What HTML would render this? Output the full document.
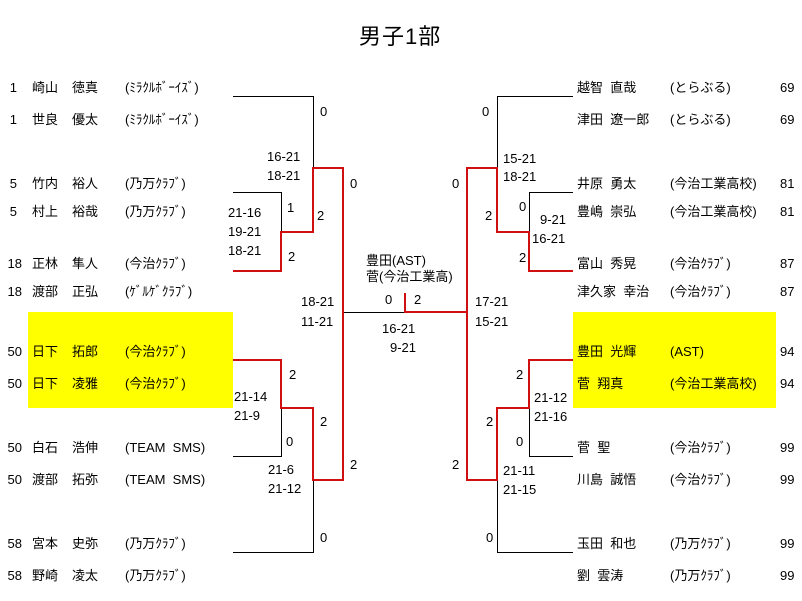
<!DOCTYPE html>
<html><head><meta charset="utf-8">
<style>
html,body{margin:0;padding:0;background:#fff;}
#c{position:relative;width:802px;height:601px;overflow:hidden;font-family:"Liberation Sans","Noto Sans CJK JP",sans-serif;font-size:13px;color:#000;}
.t{position:absolute;line-height:16px;white-space:nowrap;}
.r{text-align:right;}
.y{position:absolute;background:#ffff00;}
svg{position:absolute;left:0;top:0;}
</style></head><body><div id="c">
<div class="y" style="left:28px;top:312px;width:205px;height:96px"></div>
<div class="y" style="left:573px;top:312px;width:203px;height:96px"></div>
<svg width="802" height="601">
<g fill="none" stroke="#000" stroke-width="1">
<polyline points="233,96.5 313.5,96.5 313.5,168"/>
<polyline points="233,192.5 281.5,192.5 281.5,232"/>
<polyline points="343,312.5 405,312.5"/>
<polyline points="233,456.5 281.5,456.5 281.5,408"/>
<polyline points="233,552.5 313.5,552.5 313.5,480"/>
<polyline points="573,96.5 497.5,96.5 497.5,168"/>
<polyline points="573,192.5 529.5,192.5 529.5,232"/>
<polyline points="573,456.5 529.5,456.5 529.5,408"/>
<polyline points="573,552.5 497.5,552.5 497.5,480"/>
</g>
<g fill="none" stroke="#d01010" stroke-width="2">
<polyline points="233,271 281,271 281,232 313,232 313,168 343,168 343,480 313,480 313,408 281,408 281,360 233,360"/>
<polyline points="405,293 405,312 467,312"/>
<polyline points="573,271 529,271 529,232 497,232 497,168 467,168 467,480 497,480 497,408 529,408 529,360 573,360"/>
</g>
</svg>
<div class="t" style="left:359px;top:24px;font-size:22px;line-height:26px;letter-spacing:1px">男子1部</div>

<!-- left names -->
<div class="t r" style="left:0;width:17px;top:80px">1</div><div class="t" style="left:32px;top:80px">崎山</div><div class="t" style="left:72px;top:80px">徳真</div><div class="t" style="left:125px;top:80px">(ﾐﾗｸﾙﾎﾞｰｲｽﾞ)</div>
<div class="t r" style="left:0;width:17px;top:112px">1</div><div class="t" style="left:32px;top:112px">世良</div><div class="t" style="left:72px;top:112px">優太</div><div class="t" style="left:125px;top:112px">(ﾐﾗｸﾙﾎﾞｰｲｽﾞ)</div>
<div class="t r" style="left:0;width:17px;top:176px">5</div><div class="t" style="left:32px;top:176px">竹内</div><div class="t" style="left:72px;top:176px">裕人</div><div class="t" style="left:125px;top:176px">(乃万ｸﾗﾌﾞ)</div>
<div class="t r" style="left:0;width:17px;top:204px">5</div><div class="t" style="left:32px;top:204px">村上</div><div class="t" style="left:72px;top:204px">裕哉</div><div class="t" style="left:125px;top:204px">(乃万ｸﾗﾌﾞ)</div>
<div class="t r" style="left:0;width:22px;top:256px">18</div><div class="t" style="left:32px;top:256px">正林</div><div class="t" style="left:72px;top:256px">隼人</div><div class="t" style="left:125px;top:256px">(今治ｸﾗﾌﾞ)</div>
<div class="t r" style="left:0;width:22px;top:284px">18</div><div class="t" style="left:32px;top:284px">渡部</div><div class="t" style="left:72px;top:284px">正弘</div><div class="t" style="left:125px;top:284px">(ｹﾞﾙｹﾞｸﾗﾌﾞ)</div>
<div class="t r" style="left:0;width:22px;top:344px">50</div><div class="t" style="left:32px;top:344px">日下</div><div class="t" style="left:72px;top:344px">拓郎</div><div class="t" style="left:125px;top:344px">(今治ｸﾗﾌﾞ)</div>
<div class="t r" style="left:0;width:22px;top:376px">50</div><div class="t" style="left:32px;top:376px">日下</div><div class="t" style="left:72px;top:376px">凌雅</div><div class="t" style="left:125px;top:376px">(今治ｸﾗﾌﾞ)</div>
<div class="t r" style="left:0;width:22px;top:440px">50</div><div class="t" style="left:32px;top:440px">白石</div><div class="t" style="left:72px;top:440px">浩伸</div><div class="t" style="left:125px;top:440px">(TEAM&nbsp;&nbsp;SMS)</div>
<div class="t r" style="left:0;width:22px;top:472px">50</div><div class="t" style="left:32px;top:472px">渡部</div><div class="t" style="left:72px;top:472px">拓弥</div><div class="t" style="left:125px;top:472px">(TEAM&nbsp;&nbsp;SMS)</div>
<div class="t r" style="left:0;width:22px;top:536px">58</div><div class="t" style="left:32px;top:536px">宮本</div><div class="t" style="left:72px;top:536px">史弥</div><div class="t" style="left:125px;top:536px">(乃万ｸﾗﾌﾞ)</div>
<div class="t r" style="left:0;width:22px;top:568px">58</div><div class="t" style="left:32px;top:568px">野崎</div><div class="t" style="left:72px;top:568px">凌太</div><div class="t" style="left:125px;top:568px">(乃万ｸﾗﾌﾞ)</div>

<!-- right names -->
<div class="t" style="left:577px;top:80px">越智&nbsp;&nbsp;直哉</div><div class="t" style="left:670px;top:80px">(とらぶる)</div><div class="t" style="left:780px;top:80px">69</div>
<div class="t" style="left:577px;top:112px">津田&nbsp;&nbsp;遼一郎</div><div class="t" style="left:670px;top:112px">(とらぶる)</div><div class="t" style="left:780px;top:112px">69</div>
<div class="t" style="left:577px;top:176px">井原&nbsp;&nbsp;勇太</div><div class="t" style="left:670px;top:176px">(今治工業高校)</div><div class="t" style="left:780px;top:176px">81</div>
<div class="t" style="left:577px;top:204px">豊嶋&nbsp;&nbsp;崇弘</div><div class="t" style="left:670px;top:204px">(今治工業高校)</div><div class="t" style="left:780px;top:204px">81</div>
<div class="t" style="left:577px;top:256px">富山&nbsp;&nbsp;秀晃</div><div class="t" style="left:670px;top:256px">(今治ｸﾗﾌﾞ)</div><div class="t" style="left:780px;top:256px">87</div>
<div class="t" style="left:577px;top:284px">津久家&nbsp;&nbsp;幸治</div><div class="t" style="left:670px;top:284px">(今治ｸﾗﾌﾞ)</div><div class="t" style="left:780px;top:284px">87</div>
<div class="t" style="left:577px;top:344px">豊田&nbsp;&nbsp;光輝</div><div class="t" style="left:670px;top:344px">(AST)</div><div class="t" style="left:780px;top:344px">94</div>
<div class="t" style="left:577px;top:376px">菅&nbsp;&nbsp;翔真</div><div class="t" style="left:670px;top:376px">(今治工業高校)</div><div class="t" style="left:780px;top:376px">94</div>
<div class="t" style="left:577px;top:440px">菅&nbsp;&nbsp;聖</div><div class="t" style="left:670px;top:440px">(今治ｸﾗﾌﾞ)</div><div class="t" style="left:780px;top:440px">99</div>
<div class="t" style="left:577px;top:472px">川島&nbsp;&nbsp;誠悟</div><div class="t" style="left:670px;top:472px">(今治ｸﾗﾌﾞ)</div><div class="t" style="left:780px;top:472px">99</div>
<div class="t" style="left:577px;top:536px">玉田&nbsp;&nbsp;和也</div><div class="t" style="left:670px;top:536px">(乃万ｸﾗﾌﾞ)</div><div class="t" style="left:780px;top:536px">99</div>
<div class="t" style="left:577px;top:568px">劉&nbsp;&nbsp;雲涛</div><div class="t" style="left:670px;top:568px">(乃万ｸﾗﾌﾞ)</div><div class="t" style="left:780px;top:568px">99</div>

<!-- left scores -->
<div class="t" style="left:320px;top:104px">0</div>
<div class="t" style="left:267px;top:149px">16-21</div>
<div class="t" style="left:267px;top:168px">18-21</div>
<div class="t" style="left:350px;top:176px">0</div>
<div class="t" style="left:287px;top:200px">1</div>
<div class="t" style="left:317px;top:208px">2</div>
<div class="t" style="left:228px;top:205px">21-16</div>
<div class="t" style="left:228px;top:224px">19-21</div>
<div class="t" style="left:228px;top:243px">18-21</div>
<div class="t" style="left:288px;top:249px">2</div>
<div class="t" style="left:366px;top:253px">豊田(AST)</div>
<div class="t" style="left:366px;top:269px">菅(今治工業高)</div>
<div class="t" style="left:385px;top:292px">0</div>
<div class="t" style="left:414px;top:292px">2</div>
<div class="t" style="left:301px;top:294px">18-21</div>
<div class="t" style="left:301px;top:314px">11-21</div>
<div class="t" style="left:382px;top:321px">16-21</div>
<div class="t" style="left:390px;top:340px">9-21</div>
<div class="t" style="left:475px;top:294px">17-21</div>
<div class="t" style="left:475px;top:314px">15-21</div>
<div class="t" style="left:289px;top:367px">2</div>
<div class="t" style="left:234px;top:389px">21-14</div>
<div class="t" style="left:234px;top:408px">21-9</div>
<div class="t" style="left:320px;top:414px">2</div>
<div class="t" style="left:286px;top:434px">0</div>
<div class="t" style="left:350px;top:457px">2</div>
<div class="t" style="left:268px;top:462px">21-6</div>
<div class="t" style="left:268px;top:481px">21-12</div>
<div class="t" style="left:320px;top:530px">0</div>

<!-- right scores -->
<div class="t" style="left:482px;top:104px">0</div>
<div class="t" style="left:503px;top:151px">15-21</div>
<div class="t" style="left:503px;top:169px">18-21</div>
<div class="t" style="left:452px;top:176px">0</div>
<div class="t" style="left:519px;top:199px">0</div>
<div class="t" style="left:485px;top:208px">2</div>
<div class="t" style="left:540px;top:212px">9-21</div>
<div class="t" style="left:532px;top:231px">16-21</div>
<div class="t" style="left:519px;top:250px">2</div>
<div class="t" style="left:516px;top:367px">2</div>
<div class="t" style="left:534px;top:390px">21-12</div>
<div class="t" style="left:534px;top:409px">21-16</div>
<div class="t" style="left:486px;top:414px">2</div>
<div class="t" style="left:516px;top:434px">0</div>
<div class="t" style="left:452px;top:457px">2</div>
<div class="t" style="left:503px;top:463px">21-11</div>
<div class="t" style="left:503px;top:482px">21-15</div>
<div class="t" style="left:486px;top:530px">0</div>
</div></body></html>
